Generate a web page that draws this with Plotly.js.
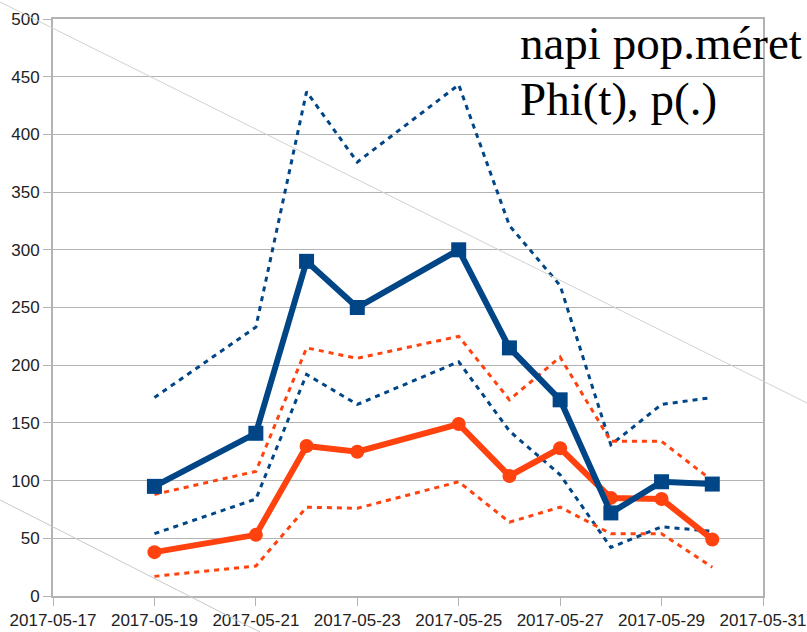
<!DOCTYPE html>
<html>
<head>
<meta charset="utf-8">
<script src="https://cdn.plot.ly/plotly-3.0.1.min.js"></script>
<style>
  html, body { margin: 0; padding: 0; background: #fff; }
  #plot { width: 807px; height: 632px; }
</style>
</head>
<body>
<div id="plot"></div>
<script>
var days = ['2017-05-19', '2017-05-21', '2017-05-22', '2017-05-23', '2017-05-25',
            '2017-05-26', '2017-05-27', '2017-05-28', '2017-05-29', '2017-05-30'];

// Phi(t) estimate with its interval (blue)
var phiMain  = [95, 141, 290, 250, 300, 215, 170, 72, 99, 97];
var phiUpper = [172, 233, 437, 376, 443, 321, 269, 131, 166, 172];
var phiLower = [54, 84, 192, 166, 203, 143, 105, 42, 60, 56];

// p(.) estimate with its interval (orange)
var pMain  = [38, 53, 130, 125, 149, 104, 128, 85, 84, 49];
var pUpper = [88, 108, 215, 206, 225, 170, 207, 134, 134, 100];
var pLower = [17, 26, 77, 76, 99, 64, 77, 54, 54, 25];

var labelLine1 = 'napi pop.méret';
var labelLine2 = 'Phi(t), p(.)';

var blue = '#004586';
var orange = '#ff420e';

function band(y, color) {
  return {
    x: days,
    y: y,
    mode: 'lines',
    line: { color: color, width: 3, dash: '5px,5px' },
    hoverinfo: 'skip'
  };
}

var trace1 = band(phiUpper, blue);
var trace2 = band(phiLower, blue);
var trace3 = band(pUpper, orange);
var trace4 = band(pLower, orange);

var trace5 = {
  x: days,
  y: pMain,
  mode: 'lines+markers',
  line: { color: orange, width: 6 },
  marker: { symbol: 'circle', size: 14, color: orange }
};

var trace6 = {
  x: days,
  y: phiMain,
  mode: 'lines+markers',
  line: { color: blue, width: 6 },
  marker: { symbol: 'square', size: 15, color: blue }
};

var tickFont = { family: 'Liberation Sans, Arial, sans-serif', size: 17, color: '#222' };

var layout = {
  width: 807,
  height: 632,
  margin: { l: 53, r: 44, t: 19, b: 36 },
  paper_bgcolor: '#fff',
  plot_bgcolor: '#fff',
  showlegend: false,
  xaxis: {
    type: 'date',
    range: ['2017-05-17', '2017-05-31'],
    tick0: '2017-05-17',
    dtick: 2 * 86400000,
    tickformat: '%Y-%m-%d',
    ticklabeloverflow: 'allow',
    showgrid: false,
    zeroline: false,
    showline: true,
    mirror: true,
    linecolor: '#b3b3b3',
    linewidth: 2,
    ticks: 'outside',
    ticklen: 8,
    tickwidth: 1,
    tickcolor: '#b3b3b3',
    tickfont: tickFont
  },
  yaxis: {
    range: [0, 500],
    dtick: 50,
    showgrid: true,
    gridcolor: '#b3b3b3',
    gridwidth: 1,
    zeroline: false,
    showline: true,
    mirror: true,
    linecolor: '#b3b3b3',
    linewidth: 2,
    ticks: 'outside',
    ticklen: 8,
    tickwidth: 1,
    tickcolor: '#b3b3b3',
    tickfont: tickFont
  },
  annotations: [
    {
      text: labelLine1,
      xref: 'paper', yref: 'paper',
      x: 0.655, y: 0.958,
      xanchor: 'left', yanchor: 'middle',
      showarrow: false,
      font: { family: 'Liberation Serif, Times New Roman, serif', size: 47, color: '#000' }
    },
    {
      text: labelLine2,
      xref: 'paper', yref: 'paper',
      x: 0.655, y: 0.862,
      xanchor: 'left', yanchor: 'middle',
      showarrow: false,
      font: { family: 'Liberation Serif, Times New Roman, serif', size: 47, color: '#000' }
    }
  ],
  shapes: [
    // faint diagonal streaks seen in the source image
    { type: 'line', xref: 'paper', yref: 'paper', x0: -0.0746, y0: 1.0295, x1: 1.062, y1: 0.3345,
      line: { color: '#d2d2cc', width: 1 }, layer: 'above' },
    { type: 'line', xref: 'paper', yref: 'paper', x0: -0.0746, y0: 0.1664, x1: 0.2915, y1: -0.0624,
      line: { color: '#c8c8c4', width: 1 }, layer: 'above' }
  ]
};

Plotly.newPlot('plot', [trace1, trace2, trace3, trace4, trace5, trace6], layout, { staticPlot: true });
</script>
</body>
</html>
